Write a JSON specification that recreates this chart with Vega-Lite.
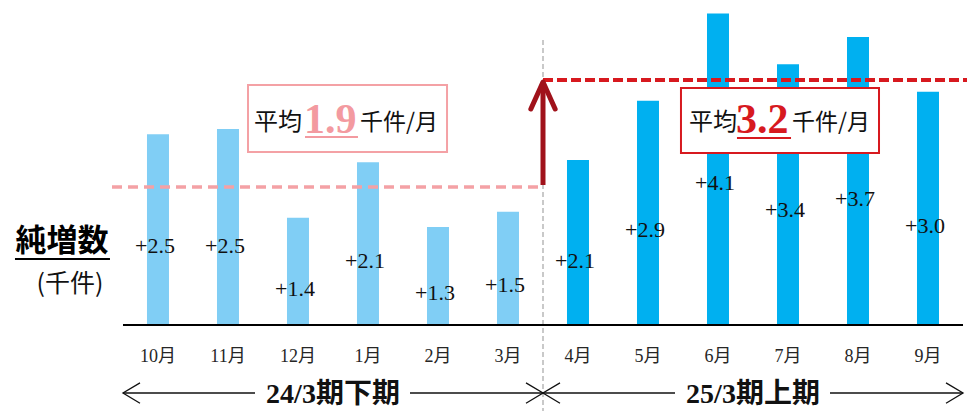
{
  "$schema": "https://vega.github.io/schema/vega-lite/v6.json",
  "width": 967,
  "height": 411,
  "padding": 0,
  "autosize": {"type": "none"},
  "background": "white",
  "config": {"view": {"stroke": null}, "font": "Liberation Serif, Noto Sans CJK JP"},
  "data": {
    "values": [
      {"month": "10月", "bar": 2.51, "lv": 2.5, "label": "+2.5", "period": "24/3期下期"},
      {"month": "11月", "bar": 2.58, "lv": 2.5, "label": "+2.5", "period": "24/3期下期"},
      {"month": "12月", "bar": 1.41, "lv": 1.4, "label": "+1.4", "period": "24/3期下期"},
      {"month": "1月", "bar": 2.14, "lv": 2.1, "label": "+2.1", "period": "24/3期下期"},
      {"month": "2月", "bar": 1.29, "lv": 1.3, "label": "+1.3", "period": "24/3期下期"},
      {"month": "3月", "bar": 1.49, "lv": 1.5, "label": "+1.5", "period": "24/3期下期"},
      {"month": "4月", "bar": 2.17, "lv": 2.1, "label": "+2.1", "period": "25/3期上期"},
      {"month": "5月", "bar": 2.95, "lv": 2.9, "label": "+2.9", "period": "25/3期上期"},
      {"month": "6月", "bar": 4.1, "lv": 4.1, "label": "+4.1", "period": "25/3期上期"},
      {"month": "7月", "bar": 3.43, "lv": 3.4, "label": "+3.4", "period": "25/3期上期"},
      {"month": "8月", "bar": 3.79, "lv": 3.7, "label": "+3.7", "period": "25/3期上期"},
      {"month": "9月", "bar": 3.07, "lv": 3.0, "label": "+3.0", "period": "25/3期上期"}
    ]
  },
  "layer": [
    {
      "encoding": {
        "x": {"field": "month", "type": "nominal", "sort": null, "axis": null,
              "scale": {"type": "band", "paddingInner": 0, "paddingOuter": 0.907, "align": 0.9685}}
      },
      "layer": [
        {
          "mark": {"type": "bar", "width": 22},
          "encoding": {
            "y": {"field": "bar", "type": "quantitative", "axis": null,
                  "scale": {"domain": [-1.1316, 4.2763], "nice": false, "zero": false}},
            "color": {"field": "period", "type": "nominal", "legend": null,
                      "scale": {"domain": ["24/3期下期", "25/3期上期"], "range": ["#80cef5", "#00b0f0"]}}
          }
        },
        {
          "mark": {"type": "text", "fontSize": 18, "baseline": "middle", "color": "#262626"},
          "encoding": {
            "y": {"datum": -0.421, "type": "quantitative", "axis": null,
                  "scale": {"domain": [-1.1316, 4.2763], "nice": false, "zero": false}},
            "text": {"field": "month"}
          }
        }
      ]
    },
    {
      "mark": {"type": "text", "fontSize": 22, "baseline": "middle", "dx": -3, "color": "#111111"},
      "encoding": {
        "x": {"field": "month", "type": "nominal", "sort": null, "axis": null,
              "scale": {"type": "band", "paddingInner": 0, "paddingOuter": 0.907, "align": 0.9685}},
        "y": {"field": "lv", "type": "quantitative", "axis": null,
              "scale": {"domain": [-1.705, 8.753], "nice": false, "zero": false}},
        "text": {"field": "label"}
      }
    },
    {
      "encoding": {
        "x": {"type": "quantitative", "axis": null, "scale": {"domain": [-1.757, 12.057], "nice": false, "zero": false}},
        "y": {"type": "quantitative", "axis": null, "scale": {"domain": [-1.1316, 4.2763], "nice": false, "zero": false}}
      },
      "layer": [
        {"data": {"values": [{}]}, "mark": {"type": "rule", "stroke": "#a6a6a6", "strokeWidth": 1.2, "strokeDash": [5, 3]},
         "encoding": {"x": {"datum": 6}, "y": {"datum": 3.75}, "y2": {"datum": -1.132}}},
        {"data": {"values": [{}]}, "mark": {"type": "rule", "stroke": "#000000", "strokeWidth": 2},
         "encoding": {"x": {"datum": 0}, "x2": {"datum": 12}, "y": {"datum": 0}}},
        {"data": {"values": [{}]}, "mark": {"type": "rule", "stroke": "#f4a1a5", "strokeWidth": 3.5, "strokeDash": [10, 6]},
         "encoding": {"x": {"datum": -0.157}, "x2": {"datum": 6}, "y": {"datum": 1.816}}},
        {"data": {"values": [{}]}, "mark": {"type": "rule", "stroke": "#d7191f", "strokeWidth": 4, "strokeDash": [10, 4]},
         "encoding": {"x": {"datum": 6}, "x2": {"datum": 12.057}, "y": {"datum": 3.224}}},
        {"data": {"values": [{}]}, "mark": {"type": "rule", "stroke": "#a0121b", "strokeWidth": 5},
         "encoding": {"x": {"datum": 6}, "y": {"datum": 1.842}, "y2": {"datum": 3.16}}},
        {"data": {"values": [{}]}, "mark": {"type": "point", "shape": "M -0.45 1 L 0 0 L 0.45 1", "size": 2916, "filled": false, "opacity": 1, "stroke": "#a0121b", "strokeWidth": 5, "strokeCap": "round", "strokeJoin": "round"},
         "encoding": {"x": {"datum": 6}, "y": {"datum": 3.197}}},
        {"data": {"values": [{}]}, "mark": {"type": "rect", "fill": "white", "stroke": "#f4a1a5", "strokeWidth": 2},
         "encoding": {"x": {"datum": 1.786}, "x2": {"datum": 4.629}, "y": {"datum": 3.158}, "y2": {"datum": 2.276}}},
        {"data": {"values": [{}]}, "mark": {"type": "rect", "fill": "white", "stroke": "#d7191f", "strokeWidth": 2},
         "encoding": {"x": {"datum": 7.971}, "x2": {"datum": 10.8}, "y": {"datum": 3.118}, "y2": {"datum": 2.263}}},
        {"data": {"values": [{}]}, "mark": {"type": "text", "text": "平均", "font": "Noto Sans CJK JP", "fontSize": 24, "align": "left", "baseline": "middle", "color": "#111111"},
         "encoding": {"x": {"datum": 1.871}, "y": {"datum": 2.658}}},
        {"data": {"values": [{}]}, "mark": {"type": "text", "text": "1.9", "fontSize": 42, "fontWeight": "bold", "align": "left", "baseline": "alphabetic", "color": "#f39aa0"},
         "encoding": {"x": {"datum": 2.586}, "y": {"datum": 2.526}}},
        {"data": {"values": [{}]}, "mark": {"type": "text", "text": "千件/月", "font": "Noto Sans CJK JP", "fontSize": 23, "align": "left", "baseline": "middle", "color": "#111111"},
         "encoding": {"x": {"datum": 3.386}, "y": {"datum": 2.658}}},
        {"data": {"values": [{}]}, "mark": {"type": "rule", "stroke": "#f39aa0", "strokeWidth": 2},
         "encoding": {"x": {"datum": 2.6}, "x2": {"datum": 3.357}, "y": {"datum": 2.474}}},
        {"data": {"values": [{}]}, "mark": {"type": "text", "text": "平均", "font": "Noto Sans CJK JP", "fontSize": 24, "align": "left", "baseline": "middle", "color": "#111111"},
         "encoding": {"x": {"datum": 8.086}, "y": {"datum": 2.658}}},
        {"data": {"values": [{}]}, "mark": {"type": "text", "text": "3.2", "fontSize": 42, "fontWeight": "bold", "align": "left", "baseline": "alphabetic", "color": "#d7191f"},
         "encoding": {"x": {"datum": 8.757}, "y": {"datum": 2.526}}},
        {"data": {"values": [{}]}, "mark": {"type": "text", "text": "千件/月", "font": "Noto Sans CJK JP", "fontSize": 23, "align": "left", "baseline": "middle", "color": "#111111"},
         "encoding": {"x": {"datum": 9.557}, "y": {"datum": 2.658}}},
        {"data": {"values": [{}]}, "mark": {"type": "rule", "stroke": "#d7191f", "strokeWidth": 2},
         "encoding": {"x": {"datum": 8.771}, "x2": {"datum": 9.543}, "y": {"datum": 2.461}}},
        {"data": {"values": [{}]}, "mark": {"type": "text", "text": "純増数", "font": "Noto Sans CJK JP", "fontSize": 31, "fontWeight": "bold", "align": "center", "baseline": "middle", "color": "#000000"},
         "encoding": {"x": {"datum": -0.871}, "y": {"datum": 1.092}}},
        {"data": {"values": [{}]}, "mark": {"type": "rule", "stroke": "#000000", "strokeWidth": 2},
         "encoding": {"x": {"datum": -1.543}, "x2": {"datum": -0.186}, "y": {"datum": 0.868}}},
        {"data": {"values": [{}]}, "mark": {"type": "text", "text": "(千件)", "font": "Noto Sans CJK JP", "fontSize": 25, "align": "center", "baseline": "middle", "color": "#111111"},
         "encoding": {"x": {"datum": -0.757}, "y": {"datum": 0.539}}},
        {"data": {"values": [{}]}, "mark": {"type": "text", "text": "24/3期下期", "fontSize": 28, "fontWeight": "bold", "align": "center", "baseline": "middle", "color": "#111111"},
         "encoding": {"x": {"datum": 3}, "y": {"datum": -0.921}}},
        {"data": {"values": [{}]}, "mark": {"type": "text", "text": "25/3期上期", "fontSize": 28, "fontWeight": "bold", "align": "center", "baseline": "middle", "color": "#111111"},
         "encoding": {"x": {"datum": 9}, "y": {"datum": -0.921}}},
        {"data": {"values": [{}]}, "mark": {"type": "rule", "stroke": "#111111", "strokeWidth": 1.3},
         "encoding": {"x": {"datum": 0}, "x2": {"datum": 1.886}, "y": {"datum": -0.895}}},
        {"data": {"values": [{}]}, "mark": {"type": "rule", "stroke": "#111111", "strokeWidth": 1.3},
         "encoding": {"x": {"datum": 4.1}, "x2": {"datum": 6}, "y": {"datum": -0.895}}},
        {"data": {"values": [{}]}, "mark": {"type": "rule", "stroke": "#111111", "strokeWidth": 1.3},
         "encoding": {"x": {"datum": 6}, "x2": {"datum": 7.886}, "y": {"datum": -0.895}}},
        {"data": {"values": [{}]}, "mark": {"type": "rule", "stroke": "#111111", "strokeWidth": 1.3},
         "encoding": {"x": {"datum": 10.1}, "x2": {"datum": 12}, "y": {"datum": -0.895}}},
        {"data": {"values": [{}]}, "mark": {"type": "point", "shape": "M 1 -0.6 L 0 0 L 1 0.6", "size": 1156, "filled": false, "opacity": 1, "stroke": "#111111", "strokeWidth": 1.3},
         "encoding": {"x": {"datum": 0}, "y": {"datum": -0.895}}},
        {"data": {"values": [{}]}, "mark": {"type": "point", "shape": "M -1 -0.6 L 0 0 L -1 0.6", "size": 1156, "filled": false, "opacity": 1, "stroke": "#111111", "strokeWidth": 1.3},
         "encoding": {"x": {"datum": 6}, "y": {"datum": -0.895}}},
        {"data": {"values": [{}]}, "mark": {"type": "point", "shape": "M 1 -0.6 L 0 0 L 1 0.6", "size": 1156, "filled": false, "opacity": 1, "stroke": "#111111", "strokeWidth": 1.3},
         "encoding": {"x": {"datum": 6}, "y": {"datum": -0.895}}},
        {"data": {"values": [{}]}, "mark": {"type": "point", "shape": "M -1 -0.6 L 0 0 L -1 0.6", "size": 1156, "filled": false, "opacity": 1, "stroke": "#111111", "strokeWidth": 1.3},
         "encoding": {"x": {"datum": 12}, "y": {"datum": -0.895}}}
      ]
    }
  ],
  "resolve": {"scale": {"x": "independent", "y": "independent"}}
}
